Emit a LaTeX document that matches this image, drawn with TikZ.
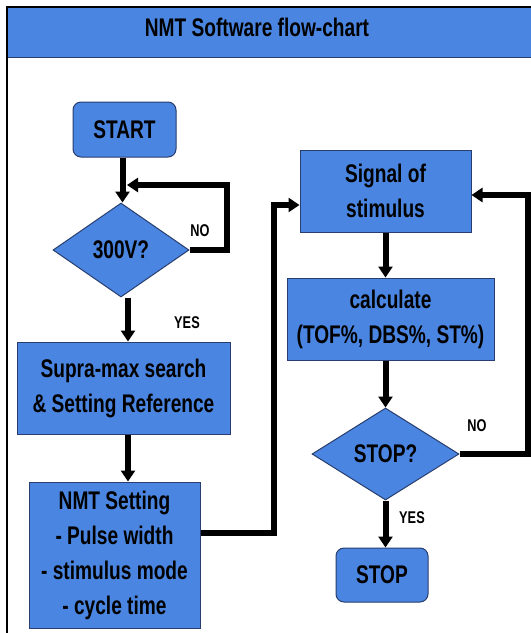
\documentclass[tikz,border=0pt]{standalone}
\usepackage{fontspec}
\setmainfont{Liberation Sans}[FakeStretch=0.75]
\usetikzlibrary{shapes.geometric,arrows.meta,calc}
\definecolor{boxblue}{RGB}{74,134,225}
\definecolor{boxedge}{RGB}{40,62,110}
\tikzset{
  every node/.style={font=\bfseries},
  bigtext/.style={font=\fontsize{25.5}{35}\selectfont\bfseries, text=black},
  smalltext/.style={font=\fontsize{17}{18}\selectfont\bfseries, text=black},
  procbox/.style={draw=boxedge, line width=1pt, fill=boxblue, bigtext, align=center, inner sep=0pt},
  termbox/.style={procbox, rounded corners=8pt},
  decbox/.style={draw=boxedge, line width=1pt, fill=boxblue, bigtext, shape=diamond, inner sep=0pt},
  flow/.style={line width=6pt, draw=black, -{Triangle[length=11pt,width=14pt]}},
}
\begin{document}
\begin{tikzpicture}[x=1pt,y=-1pt]
\useasboundingbox (0,0) rectangle (531,633);
\clip (0,0) rectangle (531,633);
% frame and title bar
\fill[white] (0,0) rectangle (531,633);
\fill[boxblue] (8,8) rectangle (540,57);
\draw[boxedge, line width=1pt] (8,57) -- (540,57);
\draw[black, line width=2pt] (7,660) -- (7,7) -- (540,7);
\node[bigtext] (title) at (257,27) {NMT Software flow-chart};
% nodes
\node[termbox, minimum width=103pt, minimum height=55pt] (start) at (124.5,129.5) {START};
\node[decbox, minimum width=136pt, minimum height=94pt] (d1) at (121,250) {300V?};
\node[procbox, minimum width=213pt, minimum height=92pt] (sup) at (123.5,388) {Supra-max search\\ \& Setting Reference};
\node[procbox, minimum width=171pt, minimum height=146pt] (nmt) at (114.5,555) {NMT Setting\\ - Pulse width\\ - stimulus mode\\ - cycle time};
\node[procbox, minimum width=171pt, minimum height=82pt] (sig) at (385.5,191) {Signal of\\ stimulus};
\node[procbox, minimum width=207pt, minimum height=82pt] (calc) at (390.5,319) {calculate\\ (TOF\%, DBS\%, ST\%)};
\node[decbox, minimum width=147pt, minimum height=92pt] (d2) at (385.5,454) {STOP?};
\node[termbox, minimum width=92pt, minimum height=54pt] (stop) at (382,575) {STOP};
% labels
\node[smalltext] (no1) at (200,231) {NO};
\node[smalltext] (yes1) at (187,323) {YES};
\node[smalltext] (no2) at (477,426) {NO};
\node[smalltext] (yes2) at (412,518) {YES};
% connectors
\coordinate (j1) at (127,185);
\draw[flow] ([xshift=-2pt]start.south) -- ([xshift=-2pt]start.south |- d1.north);
\draw[flow] (d1.east) -- ++(37,0) |- (j1);
\draw[flow] ([xshift=7pt]d1.south) -- ([xshift=7pt]d1.south |- sup.north);
\draw[flow] ([xshift=4.5pt]sup.south) -- ([xshift=4.5pt]sup.south |- nmt.north);
\draw[flow] ([yshift=22pt]nmt.east) -- ++(73,0) |- ([yshift=-14pt]sig.west);
\draw[flow] (sig.south) -- (sig.south |- calc.north);
\draw[flow] (sig.south |- calc.south) -- (sig.south |- d2.north);
\draw[flow] (d2.south) -- (d2.south |- stop.north);
\draw[flow] (d2.east) -- ++(68,0) |- ([yshift=-4pt]sig.east);
\end{tikzpicture}
\end{document}
